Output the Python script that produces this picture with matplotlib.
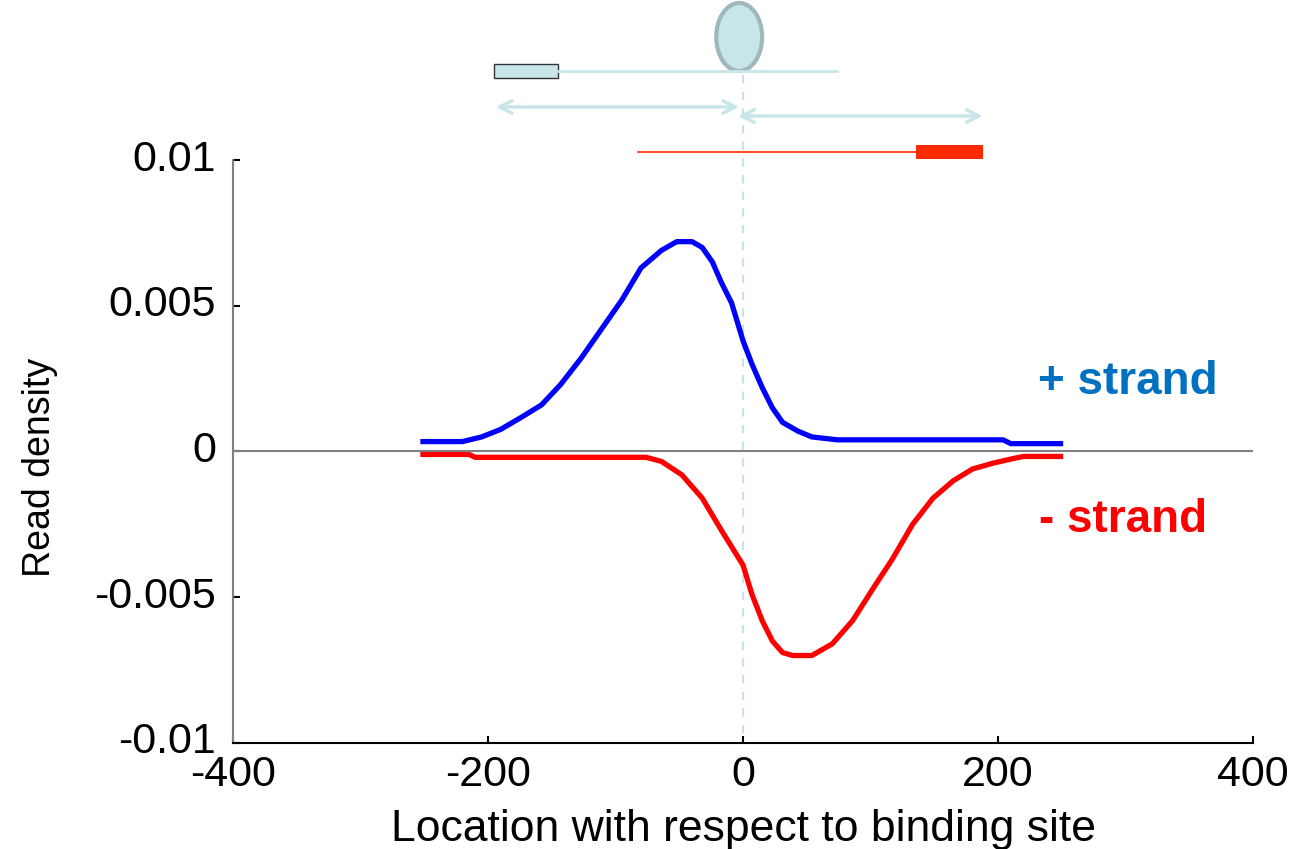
import matplotlib.pyplot as plt
import matplotlib.patches as patches
import matplotlib.transforms as mtransforms

plt.rcParams['font.family'] = ['Liberation Sans', 'DejaVu Sans']

# read density profiles around a binding site
plus_x = [-251, -220, -205, -190, -174, -158, -143, -127, -111, -95, -80, -64,
          -52, -40, -32, -24, -17, -9, 0, 7, 15, 23, 31, 43, 54, 74, 204, 210, 249]
plus_y = [0.00034, 0.00034, 0.0005, 0.00076, 0.00117, 0.0016, 0.0023, 0.0032,
          0.0042, 0.0052, 0.0063, 0.0069, 0.0072, 0.0072, 0.0070, 0.0065,
          0.0058, 0.0051, 0.0038, 0.0030, 0.0022, 0.0015, 0.0010, 0.0007,
          0.0005, 0.0004, 0.0004, 0.00027, 0.00027]

minus_x = [-251, -215, -210, -76, -64, -48, -32, -17, 0, 7, 15, 23, 31, 39, 54,
           70, 86, 102, 117, 133, 149, 165, 180, 196, 212, 220, 249]
minus_y = [-0.0001, -0.0001, -0.0002, -0.0002, -0.00034, -0.0008, -0.0016,
           -0.0027, -0.0039, -0.0049, -0.0058, -0.0065, -0.0069, -0.0070,
           -0.0070, -0.0066, -0.0058, -0.0047, -0.0037, -0.0025, -0.0016,
           -0.0010, -0.0006, -0.0004, -0.00024, -0.00017, -0.00017]

xticks = [-400, -200, 0, 200, 400]
yticks = [-0.01, -0.005, 0, 0.005, 0.01]
ytick_labels = ['-0.01', '-0.005', '0', '0.005', '0.01']

fig = plt.figure(figsize=(12.93, 8.49), dpi=100)
ax = fig.add_axes([0.1802, 0.1249, 0.7889, 0.6866])

ax.plot(plus_x, plus_y, color='#0000ff', lw=3.8, solid_joinstyle='round')
ax.plot(minus_x, minus_y, color='#ff0000', lw=3.8, solid_joinstyle='round')
ax.axhline(0, color='#808080', lw=1.5)

ax.set_xlim(-400, 400)
ax.set_ylim(-0.01, 0.01)
ax.set_xticks(xticks)
ax.set_xticklabels([str(t) for t in xticks])
ax.set_yticks(yticks)
ax.set_yticklabels(ytick_labels)
ax.tick_params(direction='in', length=5, width=1.5, labelsize=31, pad=9)
ax.tick_params(axis='y', pad=12)
# MATLAB-style: y labels sit a little above their ticks
shift = mtransforms.ScaledTranslation(0, 5 / 100.0, fig.dpi_scale_trans)
for lab in ax.get_yticklabels():
    lab.set_transform(lab.get_transform() + shift)
for s in ['top', 'right']:
    ax.spines[s].set_visible(False)
ax.spines['left'].set_color('#808080')
ax.spines['left'].set_linewidth(1.5)
ax.spines['bottom'].set_linewidth(1.5)

ax.set_xlabel('Location with respect to binding site', fontsize=32, labelpad=10)
ax.set_ylabel('Read density', fontsize=27)
ax.yaxis.set_label_coords(-0.172, 0.473)

ax.text(231, 0.0024, '+ strand', color='#0070c0', fontsize=33, fontweight='bold',
        ha='left', va='center')
ax.text(232, -0.00234, '- strand', color='#ff0000', fontsize=33, fontweight='bold',
        ha='left', va='center')

# schematic above the axes: x in data units, y in figure fraction
tr = mtransforms.blended_transform_factory(ax.transData, fig.transFigure)


def fy(py):
    return 1 - py / 849.0


cyan = '#c8e6ea'
ax.plot([0, 0], [fy(75), 0.1249], transform=tr, color='#c5e3e8', lw=1.5,
        ls=(0, (4, 4)), clip_on=False, zorder=0)
ax.plot([-145, 74], [fy(71), fy(71)], transform=tr, color=cyan, lw=2, clip_on=False)
ax.add_patch(patches.Rectangle((-195, fy(78)), 50, fy(64) - fy(78), transform=tr,
                               facecolor=cyan, edgecolor='#333333', lw=1,
                               clip_on=False))
ax.add_patch(patches.Ellipse((-3, fy(37)), 36, 68 / 849.0, transform=tr,
                             facecolor=cyan, edgecolor='#9fb8bc', lw=3,
                             clip_on=False))
arrow_kw = dict(arrowstyle='<->,head_length=0.9,head_width=0.45', color=cyan,
                lw=2.5, shrinkA=0, shrinkB=0)
ax.annotate('', xy=(-3, fy(107)), xytext=(-194, fy(107)), xycoords=tr,
            textcoords=tr, arrowprops=arrow_kw, annotation_clip=False)
ax.annotate('', xy=(188, fy(116)), xytext=(-4, fy(116)), xycoords=tr,
            textcoords=tr, arrowprops=arrow_kw, annotation_clip=False)
ax.plot([-82, 136], [fy(152), fy(152)], transform=tr, color='#ff2a00', lw=1.2,
        clip_on=False)
ax.add_patch(patches.Rectangle((136, fy(159)), 52, fy(145) - fy(159), transform=tr,
                               facecolor='#ff2a00', edgecolor='none',
                               clip_on=False))

fig.savefig('out.png', dpi=100)
